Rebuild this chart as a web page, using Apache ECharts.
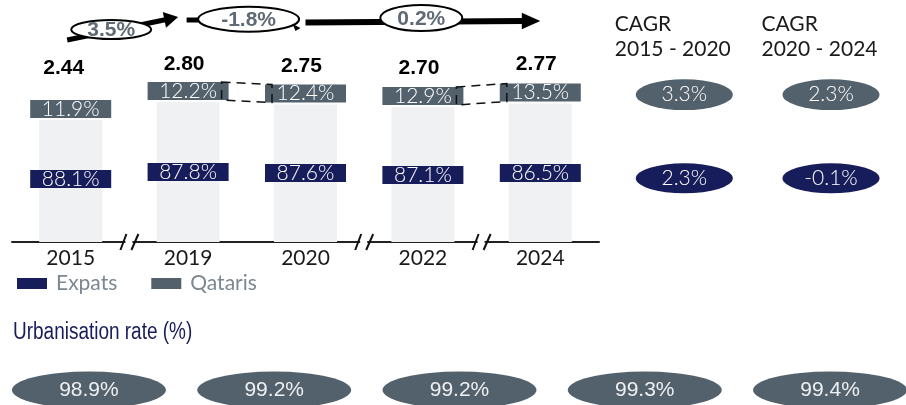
<!DOCTYPE html>
<html>
<head>
<meta charset="utf-8">
<script src="https://cdn.jsdelivr.net/npm/echarts@6/dist/echarts.min.js"></script>
<style>
  html, body { margin: 0; padding: 0; background: #ffffff; }
  #chart { width: 906px; height: 405px; }
</style>
</head>
<body>
<div id="chart"></div>
<script>
// ---- data ----
const categories = ['2015', '2019', '2020', '2022', '2024'];
const totalPopulation = [2.44, 2.80, 2.75, 2.70, 2.77];
const qatariShare = [11.9, 12.2, 12.4, 12.9, 13.5];
const expatShare = [88.1, 87.8, 87.6, 87.1, 86.5];
const growthRates = [3.5, -1.8, 0.2];
const cagrPeriods = ['2015 - 2020', '2020 - 2024'];
const qatariCagr = [3.3, 2.3];
const expatCagr = [2.3, -0.1];
const urbanisationRate = [98.9, 99.2, 99.2, 99.3, 99.4];

// ---- layout / style constants ----
const NAVY = '#171c5a';
const GRAY = '#53616c';
const LIGHT = '#f0f1f3';
const expatLabelLift = [54, 61, 60, 58, 60];
const totalLabelLift = [41, 27, 28, 28, 29];
const totalLabelShiftX = [-7, -4, -4, -4, -4];

const pct = v => v.toFixed(1) + '%';

const chart = echarts.init(document.getElementById('chart'), null, { renderer: 'canvas' });

const boxLabel = (bg) => ({
  show: true,
  backgroundColor: bg,
  color: '#ffffff',
  width: 81,
  height: 18,
  lineHeight: 18,
  align: 'center',
  padding: 0,
  fontSize: 21,
  fontFamily: 'Lato',
  fontWeight: 300
});

const option = {
  animation: false,
  backgroundColor: '#ffffff',
  grid: [
    { left: 12, right: 307, top: 92, bottom: 163 },
    { left: 684.3, width: 146.7, top: 94.7, height: 83.6 },
    { left: 0, width: 906, top: 380, height: 10 }
  ],
  xAxis: [
    {
      type: 'category', gridIndex: 0, data: categories, boundaryGap: true,
      axisTick: { show: false },
      axisLine: { lineStyle: { color: '#222222', width: 2 } },
      axisLabel: { fontSize: 21, color: '#1a1a1a', fontFamily: 'Lato', margin: 6 }
    },
    { type: 'value', gridIndex: 1, min: 0, max: 1, show: false },
    { type: 'value', gridIndex: 2, min: -0.48, max: 4.41, show: false }
  ],
  yAxis: [
    { type: 'value', gridIndex: 0, min: 0, max: 3, show: false, splitLine: { show: false } },
    { type: 'value', gridIndex: 1, min: 0, max: 1, inverse: true, show: false },
    { type: 'value', gridIndex: 2, min: 0, max: 1, show: false }
  ],
  legend: {
    left: 17, top: 273, padding: 0,
    itemWidth: 30, itemHeight: 11, itemGap: 34,
    selectedMode: false,
    textStyle: { fontSize: 21, color: '#7d8790', fontFamily: 'Lato', padding: [0, 0, 0, 4] },
    data: [
      { name: 'Expats', icon: 'rect', itemStyle: { color: NAVY } },
      { name: 'Qataris', icon: 'rect', itemStyle: { color: GRAY } }
    ]
  },
  series: [
    {
      name: 'Qataris', type: 'bar', xAxisIndex: 0, yAxisIndex: 0,
      barWidth: 63, barGap: '-100%',
      itemStyle: { color: LIGHT },
      data: totalPopulation,
      label: Object.assign(boxLabel(GRAY), {
        position: 'top', distance: 2,
        formatter: p => pct(qatariShare[p.dataIndex])
      }),
      z: 2
    },
    {
      name: 'Expats', type: 'bar', xAxisIndex: 0, yAxisIndex: 0,
      barWidth: 63, barGap: '-100%',
      itemStyle: { color: 'rgba(0,0,0,0)' },
      data: totalPopulation.map((v, i) => ({ value: v, label: { distance: expatLabelLift[i] } })),
      label: Object.assign(boxLabel(NAVY), {
        position: 'insideBottom',
        formatter: p => pct(expatShare[p.dataIndex])
      }),
      z: 3
    },
    {
      name: 'Total', type: 'bar', xAxisIndex: 0, yAxisIndex: 0,
      barWidth: 63, barGap: '-100%',
      itemStyle: { color: 'rgba(0,0,0,0)' },
      data: totalPopulation.map((v, i) => ({
        value: v,
        label: { distance: totalLabelLift[i], offset: [totalLabelShiftX[i], 0] }
      })),
      label: {
        show: true, position: 'top',
        formatter: p => p.value.toFixed(2),
        fontSize: 21, fontWeight: 'bold', color: '#000000',
        fontFamily: 'Liberation Sans', lineHeight: 21
      },
      z: 3
    },
    {
      name: 'Qataris CAGR', type: 'scatter', xAxisIndex: 1, yAxisIndex: 1,
      symbol: 'circle', symbolSize: [97, 30.7], clip: false,
      itemStyle: { color: GRAY, opacity: 1 },
      data: qatariCagr.map((v, i) => [i, 0]),
      label: {
        show: true, position: 'inside', color: '#ffffff', fontSize: 21,
        fontFamily: 'Lato', fontWeight: 300,
        formatter: p => pct(qatariCagr[p.dataIndex])
      }
    },
    {
      name: 'Expats CAGR', type: 'scatter', xAxisIndex: 1, yAxisIndex: 1,
      symbol: 'circle', symbolSize: [97, 30], clip: false,
      itemStyle: { color: NAVY, opacity: 1 },
      data: expatCagr.map((v, i) => [i, 1]),
      label: {
        show: true, position: 'inside', color: '#ffffff', fontSize: 21,
        fontFamily: 'Lato', fontWeight: 300,
        formatter: p => pct(expatCagr[p.dataIndex])
      }
    },
    {
      name: 'Urbanisation', type: 'scatter', xAxisIndex: 2, yAxisIndex: 2,
      symbol: 'circle', symbolSize: [154, 37], clip: false,
      itemStyle: { color: GRAY, opacity: 1 },
      data: urbanisationRate.map((v, i) => [i, 0]),
      label: {
        show: true, position: 'inside', color: '#eef0f2', fontSize: 21,
        fontFamily: 'Liberation Sans',
        formatter: p => pct(urbanisationRate[p.dataIndex])
      }
    }
  ]
};

chart.setOption(option);

// ---- decorations anchored to the axes ----
const cx = categories.map(c => chart.convertToPixel({ xAxisIndex: 0 }, c));
const yPix = v => chart.convertToPixel({ yAxisIndex: 0 }, v);
const axisY = yPix(0);
const g = [];

// axis breaks between non-consecutive years
[[0, 1], [2, 3], [3, 4]].forEach(([a, b]) => {
  const x = (cx[a] + cx[b]) / 2;
  g.push({ type: 'rect', z: 50, shape: { x: x - 4, y: axisY - 3, width: 7, height: 6 }, style: { fill: '#ffffff' } });
  g.push({ type: 'line', z: 51, shape: { x1: x - 9, y1: axisY + 8, x2: x - 3, y2: axisY - 8 }, style: { stroke: '#111', lineWidth: 2 } });
  g.push({ type: 'line', z: 51, shape: { x1: x + 2, y1: axisY + 8, x2: x + 9, y2: axisY - 8 }, style: { stroke: '#111', lineWidth: 2 } });
});

// dashed connectors between Qatari share boxes
[[1, 2], [3, 4]].forEach(([a, b]) => {
  const topA = yPix(totalPopulation[a]) - 2 - 18, botA = yPix(totalPopulation[a]) - 2;
  const topB = yPix(totalPopulation[b]) - 2 - 18, botB = yPix(totalPopulation[b]) - 2;
  const xa = cx[a] + 33.5, xb = cx[b] - 33.5;
  g.push({
    type: 'polygon', z: 60,
    shape: { points: [[xa, topA], [xb, topB], [xb, botB], [xa, botA]] },
    style: { fill: 'none', stroke: '#111', lineWidth: 1.5, lineDash: [9, 6] }
  });
});

// growth arrows
function head(tipX, tipY, fromX, fromY, len, halfW) {
  const dx = tipX - fromX, dy = tipY - fromY, d = Math.hypot(dx, dy);
  const ux = dx / d, uy = dy / d;
  const bx = tipX - ux * len, by = tipY - uy * len;
  return { type: 'polygon', z: 70, shape: { points: [[tipX, tipY], [bx - uy * halfW, by + ux * halfW], [bx + uy * halfW, by - ux * halfW]] }, style: { fill: '#000' } };
}
function bubble(x, y, rx, ry, text) {
  g.push({ type: 'ellipse', z: 71, shape: { cx: x, cy: y, rx: rx, ry: ry }, style: { fill: '#ffffff', stroke: '#000', lineWidth: 2 } });
  g.push({
    type: 'text', z: 72, x: x, y: y + 1,
    style: { text: text, fill: '#5f6a74', fontSize: 21, fontWeight: 'bold', fontFamily: 'Liberation Sans', align: 'center', verticalAlign: 'middle' }
  });
}
const fmtRate = v => v.toFixed(1) + '%';
// arrow 1 (2015 -> 2019)
{
  const x1 = cx[0] - 3.5, y1 = 40, x2 = cx[1] - 10, y2 = 17;
  g.push({ type: 'line', z: 70, shape: { x1: x1, y1: y1, x2: x2 - 8, y2: y2 + 1.7 }, style: { stroke: '#000', lineWidth: 5 } });
  g.push(head(x2, y2, x1, y1, 14, 8));
  bubble(cx[0] + 40.5, 29.5, 40, 9.5, fmtRate(growthRates[0]));
}
// arrow 2 (2019 -> 2020)
{
  g.push({ type: 'line', z: 70, shape: { x1: cx[1] - 1.5, y1: 20, x2: cx[1] + 14, y2: 20 }, style: { stroke: '#000', lineWidth: 5 } });
  bubble(cx[1] + 60.5, 19.2, 50.5, 12.5, fmtRate(growthRates[1]));
  g.push({ type: 'polygon', z: 73, shape: { points: [[cx[2] - 5, 28], [cx[2] - 13, 24], [cx[2] - 10, 31]] }, style: { fill: '#000' } });
}
// arrow 3 (2020 -> 2024)
{
  const x1 = cx[2], x2 = cx[4];
  g.push({ type: 'line', z: 70, shape: { x1: x1, y1: 22.5, x2: x2 - 17, y2: 21 }, style: { stroke: '#000', lineWidth: 6 } });
  g.push(head(x2, 21, x1, 21, 18.5, 8.3));
  bubble((cx[2] + cx[4]) / 2 - 1.6, 18, 41, 13, fmtRate(growthRates[2]));
}

// CAGR headers above the CAGR bubbles
cagrPeriods.forEach((p, i) => {
  const colX = chart.convertToPixel({ xAxisIndex: 1 }, i);
  g.push({
    type: 'text', z: 10, x: colX - 69.5, y: 12,
    style: { text: 'CAGR\n' + p, fill: '#1a1a1a', fontSize: 21, fontFamily: 'Lato', lineHeight: 25, align: 'left', verticalAlign: 'top' }
  });
});

// urbanisation title (condensed look via horizontal scaling)
g.push({
  type: 'text', z: 10, x: 13, y: 333, scaleX: 0.825,
  style: { text: 'Urbanisation rate (%)', fill: NAVY, fontSize: 23, fontFamily: 'Liberation Sans', align: 'left', verticalAlign: 'middle' }
});

chart.setOption({ graphic: { elements: g } });
</script>
</body>
</html>
